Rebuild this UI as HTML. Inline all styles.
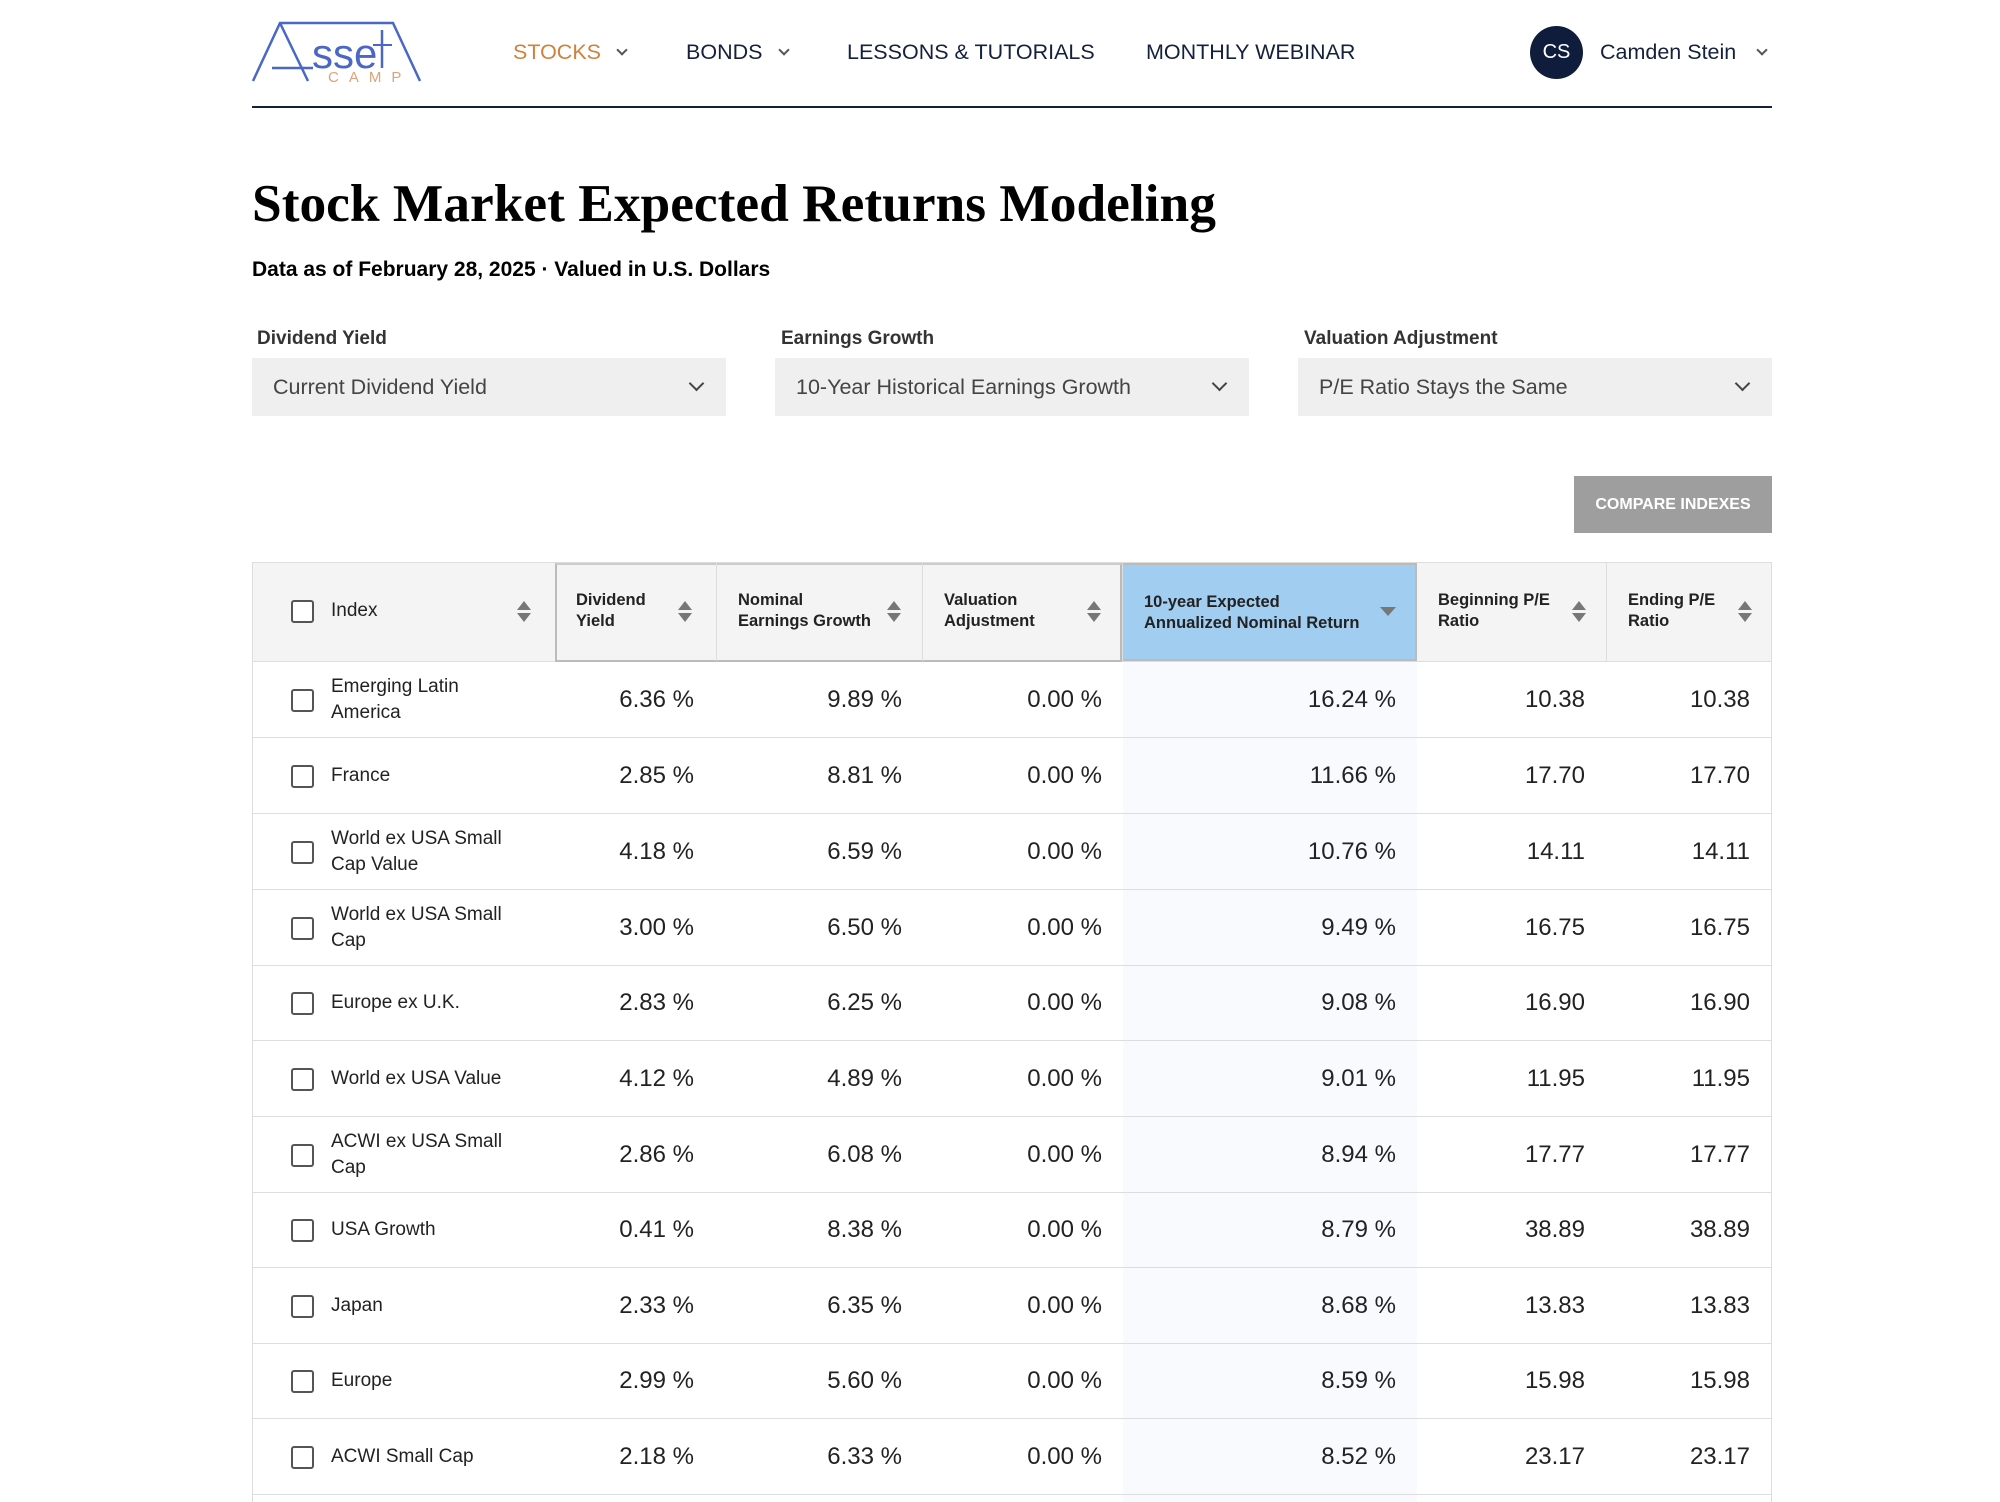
<!DOCTYPE html>
<html style="height:1502px;overflow:hidden"><head><meta charset="utf-8">
<style>
*{box-sizing:border-box;margin:0;padding:0}
body{width:2000px;height:1502px;overflow:hidden;background:#fff;font-family:"Liberation Sans",Arial,sans-serif;color:#111;position:relative}
.a{position:absolute}
.nav{position:absolute;top:40px;font-size:21.5px;color:#14203d;letter-spacing:0}
.chev{display:inline-block;width:8px;height:8px;border-right:2px solid #555;border-bottom:2px solid #555;transform:rotate(45deg);position:absolute}
.lbl{position:absolute;top:328px;font-size:19px;font-weight:bold;color:#333}
.dd{position:absolute;top:358px;height:58px;width:474px;background:#efefef;font-size:21.5px;color:#444;padding:17px 0 0 21px}
.dd .chev{right:24px;top:20px;width:11px;height:11px;border-color:#444}
.tbl{position:absolute;left:252px;top:562px;width:1520px;height:940px;border:1px solid #ddd;border-bottom:none;overflow:hidden}
.hd{position:absolute;left:0;top:0;width:1518px;height:99px;background:#f4f4f4;border-bottom:1px solid #ddd;z-index:2}
.hc{position:absolute;top:0;height:98px;font-size:16.5px;font-weight:bold;color:#222;line-height:21px;padding-top:27px;border-right:1px solid #ddd}
.row{position:absolute;left:0;width:1518px;height:76px;border-bottom:1px solid #ddd}
.c{position:absolute;top:0;height:75px;line-height:75px;font-size:24px;color:#222;text-align:right}
.nm{position:absolute;left:78px;top:0;height:75px;width:200px;display:flex;align-items:center;font-size:19px;line-height:26px;color:#222}
.cb{position:absolute;width:23px;height:23px;border:2px solid #555;border-radius:3px;background:#fff}
.srt{position:absolute;width:14px;height:22px}
.srt:before{content:"";position:absolute;left:0;top:0;border-left:7px solid transparent;border-right:7px solid transparent;border-bottom:9px solid #777}
.srt:after{content:"";position:absolute;left:0;top:12px;border-left:7px solid transparent;border-right:7px solid transparent;border-top:9px solid #777}
</style></head><body>
<svg class="a" style="left:250px;top:20px" width="186" height="65" viewBox="0 0 186 65">
<polyline points="3,61 30,3 143,3 170,61" fill="none" stroke="#4a67c6" stroke-width="2.5"/>
<line x1="30" y1="3" x2="58" y2="61" stroke="#4a67c6" stroke-width="2.5"/>
<line x1="22" y1="48" x2="63" y2="48" stroke="#4a67c6" stroke-width="2.5"/>
<text x="62" y="48" font-family="Liberation Sans" font-size="42" fill="#4a67c6">sse</text>
<line x1="132" y1="10" x2="132" y2="48" stroke="#4a67c6" stroke-width="2.5"/>
<line x1="123" y1="25" x2="142" y2="25" stroke="#4a67c6" stroke-width="2"/>
<text x="78" y="62" font-family="Liberation Sans" font-size="15" fill="#d9a47a" letter-spacing="10">CAMP</text>
</svg>
<div class="nav" style="left:513px;color:#d0813c">STOCKS</div><span class="chev" style="left:618px;top:46px"></span>
<div class="nav" style="left:686px">BONDS</div><span class="chev" style="left:780px;top:46px"></span>
<div class="nav" style="left:847px">LESSONS &amp; TUTORIALS</div>
<div class="nav" style="left:1146px">MONTHLY WEBINAR</div>
<div class="a" style="left:1530px;top:26px;width:53px;height:53px;border-radius:50%;background:#0f1c3c;color:#fff;font-size:20px;text-align:center;line-height:53px">CS</div>
<div class="nav" style="left:1600px;top:40px">Camden Stein</div><span class="chev" style="left:1758px;top:46px"></span>
<div class="a" style="left:252px;top:106px;width:1520px;height:2px;background:#14203d"></div>

<div class="a" style="left:252px;top:172px;font-family:'Liberation Serif',serif;font-weight:bold;font-size:53.4px;color:#000">Stock Market Expected Returns Modeling</div>
<div class="a" style="left:252px;top:258px;font-size:21px;font-weight:bold;color:#000">Data as of February 28, 2025 · Valued in U.S. Dollars</div>

<div class="lbl" style="left:257px">Dividend Yield</div>
<div class="lbl" style="left:781px">Earnings Growth</div>
<div class="lbl" style="left:1304px">Valuation Adjustment</div>
<div class="dd" style="left:252px">Current Dividend Yield<span class="chev"></span></div>
<div class="dd" style="left:775px">10-Year Historical Earnings Growth<span class="chev"></span></div>
<div class="dd" style="left:1298px">P/E Ratio Stays the Same<span class="chev"></span></div>

<div class="a" style="left:1574px;top:476px;width:198px;height:57px;background:#9e9e9e;color:#fff;font-weight:bold;font-size:16px;text-align:center;line-height:57px">COMPARE INDEXES</div>

<div class="tbl">
<div class="hd">
 <div class="hc" style="left:0;width:303px;border-right:none"><span class="cb" style="left:38px;top:37px"></span><span style="position:absolute;left:78px;top:37px;font-weight:normal;font-size:19px">Index</span><span class="srt" style="left:264px;top:38px"></span></div>
 <div class="a" style="left:302px;top:0;width:567px;height:99px;border:2px solid #bbb;border-top:2px solid #ccc"></div>
 <div class="hc" style="left:303px;width:161px;padding-left:20px">Dividend<br>Yield<span class="srt" style="left:122px;top:38px"></span></div>
 <div class="hc" style="left:464px;width:206px;padding-left:21px">Nominal<br>Earnings Growth<span class="srt" style="left:170px;top:38px"></span></div>
 <div class="hc" style="left:670px;width:200px;padding-left:21px">Valuation<br>Adjustment<span class="srt" style="left:164px;top:38px"></span></div>
 <div class="hc" style="left:870px;width:294px;padding-left:21px;background:#a1cdf1;border:2px solid #bbb;border-left:none">10-year Expected<br>Annualized Nominal Return<span style="position:absolute;left:257px;top:42px;border-left:8px solid transparent;border-right:8px solid transparent;border-top:9px solid #777"></span></div>
 <div class="hc" style="left:1164px;width:190px;padding-left:21px">Beginning P/E<br>Ratio<span class="srt" style="left:155px;top:38px"></span></div>
 <div class="hc" style="left:1354px;width:164px;padding-left:21px;border-right:none">Ending P/E<br>Ratio<span class="srt" style="left:131px;top:38px"></span></div>
</div>
<div class="a" style="left:870px;top:99px;width:294px;height:900px;background:#f8fafd"></div>
<div class="row" style="top:99px"><span class="cb" style="left:38px;top:27px"></span><div class="nm">Emerging Latin<br>America</div><div class="c" style="right:1077px">6.36 %</div><div class="c" style="right:869px">9.89 %</div><div class="c" style="right:669px">0.00 %</div><div class="c" style="right:375px">16.24 %</div><div class="c" style="right:186px">10.38</div><div class="c" style="right:21px">10.38</div></div>
<div class="row" style="top:175px"><span class="cb" style="left:38px;top:27px"></span><div class="nm">France</div><div class="c" style="right:1077px">2.85 %</div><div class="c" style="right:869px">8.81 %</div><div class="c" style="right:669px">0.00 %</div><div class="c" style="right:375px">11.66 %</div><div class="c" style="right:186px">17.70</div><div class="c" style="right:21px">17.70</div></div>
<div class="row" style="top:251px"><span class="cb" style="left:38px;top:27px"></span><div class="nm">World ex USA Small<br>Cap Value</div><div class="c" style="right:1077px">4.18 %</div><div class="c" style="right:869px">6.59 %</div><div class="c" style="right:669px">0.00 %</div><div class="c" style="right:375px">10.76 %</div><div class="c" style="right:186px">14.11</div><div class="c" style="right:21px">14.11</div></div>
<div class="row" style="top:327px"><span class="cb" style="left:38px;top:27px"></span><div class="nm">World ex USA Small<br>Cap</div><div class="c" style="right:1077px">3.00 %</div><div class="c" style="right:869px">6.50 %</div><div class="c" style="right:669px">0.00 %</div><div class="c" style="right:375px">9.49 %</div><div class="c" style="right:186px">16.75</div><div class="c" style="right:21px">16.75</div></div>
<div class="row" style="top:402px"><span class="cb" style="left:38px;top:27px"></span><div class="nm">Europe ex U.K.</div><div class="c" style="right:1077px">2.83 %</div><div class="c" style="right:869px">6.25 %</div><div class="c" style="right:669px">0.00 %</div><div class="c" style="right:375px">9.08 %</div><div class="c" style="right:186px">16.90</div><div class="c" style="right:21px">16.90</div></div>
<div class="row" style="top:478px"><span class="cb" style="left:38px;top:27px"></span><div class="nm">World ex USA Value</div><div class="c" style="right:1077px">4.12 %</div><div class="c" style="right:869px">4.89 %</div><div class="c" style="right:669px">0.00 %</div><div class="c" style="right:375px">9.01 %</div><div class="c" style="right:186px">11.95</div><div class="c" style="right:21px">11.95</div></div>
<div class="row" style="top:554px"><span class="cb" style="left:38px;top:27px"></span><div class="nm">ACWI ex USA Small<br>Cap</div><div class="c" style="right:1077px">2.86 %</div><div class="c" style="right:869px">6.08 %</div><div class="c" style="right:669px">0.00 %</div><div class="c" style="right:375px">8.94 %</div><div class="c" style="right:186px">17.77</div><div class="c" style="right:21px">17.77</div></div>
<div class="row" style="top:629px"><span class="cb" style="left:38px;top:27px"></span><div class="nm">USA Growth</div><div class="c" style="right:1077px">0.41 %</div><div class="c" style="right:869px">8.38 %</div><div class="c" style="right:669px">0.00 %</div><div class="c" style="right:375px">8.79 %</div><div class="c" style="right:186px">38.89</div><div class="c" style="right:21px">38.89</div></div>
<div class="row" style="top:705px"><span class="cb" style="left:38px;top:27px"></span><div class="nm">Japan</div><div class="c" style="right:1077px">2.33 %</div><div class="c" style="right:869px">6.35 %</div><div class="c" style="right:669px">0.00 %</div><div class="c" style="right:375px">8.68 %</div><div class="c" style="right:186px">13.83</div><div class="c" style="right:21px">13.83</div></div>
<div class="row" style="top:780px"><span class="cb" style="left:38px;top:27px"></span><div class="nm">Europe</div><div class="c" style="right:1077px">2.99 %</div><div class="c" style="right:869px">5.60 %</div><div class="c" style="right:669px">0.00 %</div><div class="c" style="right:375px">8.59 %</div><div class="c" style="right:186px">15.98</div><div class="c" style="right:21px">15.98</div></div>
<div class="row" style="top:856px"><span class="cb" style="left:38px;top:27px"></span><div class="nm">ACWI Small Cap</div><div class="c" style="right:1077px">2.18 %</div><div class="c" style="right:869px">6.33 %</div><div class="c" style="right:669px">0.00 %</div><div class="c" style="right:375px">8.52 %</div><div class="c" style="right:186px">23.17</div><div class="c" style="right:21px">23.17</div></div>
</div>
</body></html>
